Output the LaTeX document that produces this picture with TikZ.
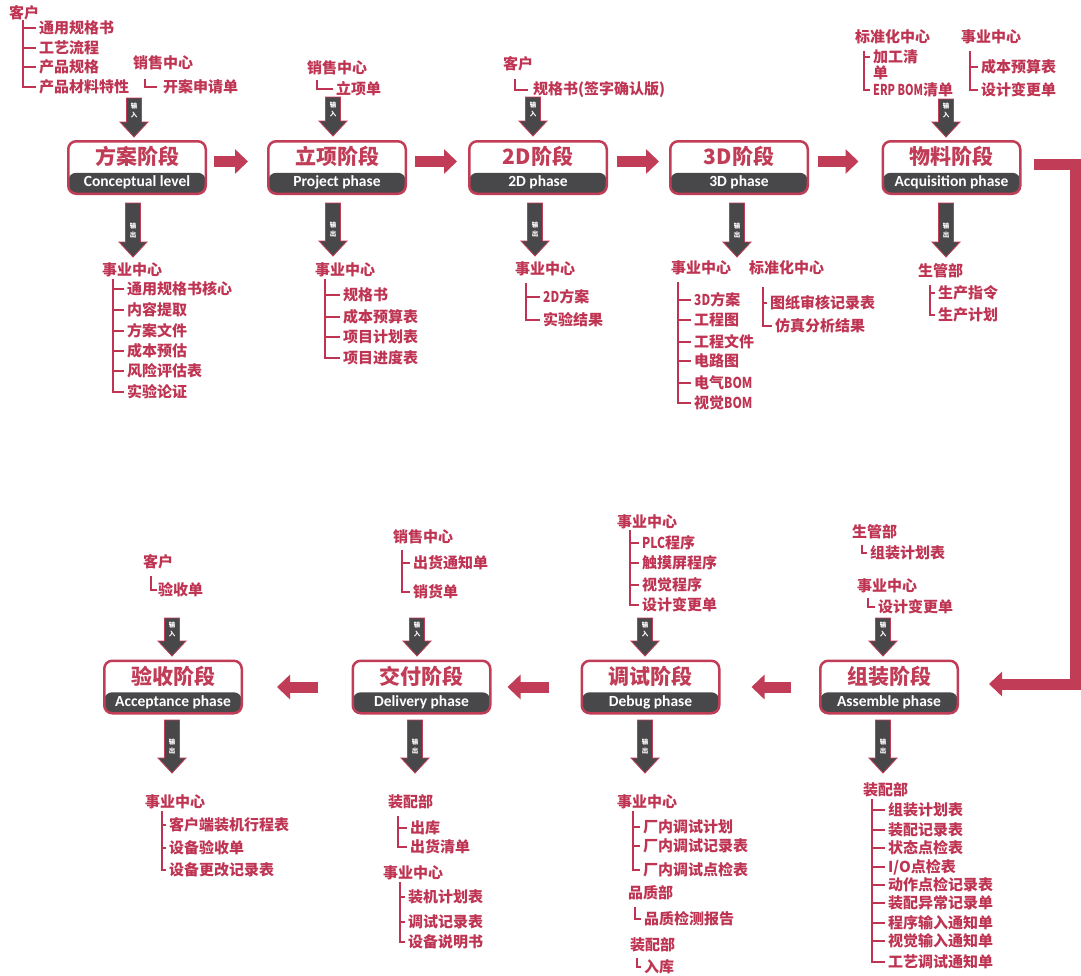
\documentclass[tikz,border=0pt]{standalone}
\usepackage{fontspec}
\newfontfamily\cjk{Noto Sans CJK SC}
\newfontfamily\lat{Carlito}
\usetikzlibrary{arrows.meta}
\definecolor{boxred}{RGB}{193,60,86}
\definecolor{txtred}{RGB}{190,52,82}
\definecolor{dgray}{RGB}{72,72,74}
\newcommand\ioarrow[5]{%
  \path[ioshape] (#1-7.5,#2) -- (#1+7.5,#2) -- (#1+7.5,#3-15) -- (#1+14,#3-15) -- (#1,#3) -- (#1-14,#3-15) -- (#1-7.5,#3-15) -- cycle;
  \node[albl] at (#1,#3-27) {#4\\#5};}
\newcommand\br[2]{\draw[tree] (#1) |- ([xshift=-3pt]#2.west);}
\newcommand\nl[1]{\scalebox{0.8}[1]{#1}}
\begin{document}
\begin{tikzpicture}[x=1pt,y=-1pt,
 itm/.style={font=\cjk\bfseries\fontsize{15}{16}\selectfont, text=txtred, inner sep=0pt, anchor=west},
 tree/.style={draw=txtred, line width=1.5pt},
 stagebox/.style={draw=boxred, line width=2.5pt, rounded corners=8pt, fill=white, minimum width=137.5pt, minimum height=52.5pt, inner sep=0pt,
   path picture={\fill[dgray] ([yshift=21pt]path picture bounding box.south west) rectangle (path picture bounding box.south east);}},
 ttl/.style={font=\cjk\bfseries\fontsize{21}{21}\selectfont, text=boxred, inner sep=0pt},
 sub/.style={font=\lat\bfseries\fontsize{15.5}{15.5}\selectfont, text=white, inner sep=0pt},
 flow/.style={draw=boxred, line width=11pt, line join=miter, -{Triangle[width=24pt,length=13pt]}},
 albl/.style={font=\cjk\bfseries\fontsize{6.5}{9}\selectfont, text=white, align=center, inner sep=0pt},
 ioshape/.style={fill=dgray, draw=boxred, line width=0.8pt, line join=miter},
]
\useasboundingbox[fill=white] (0,0) rectangle (1081,975);

% ---------- stage boxes ----------
\node[stagebox] (s1) at (137,167.5) {};
\node[stagebox] (s2) at (337,167.5) {};
\node[stagebox] (s3) at (538,167.5) {};
\node[stagebox] (s4) at (739,167.5) {};
\node[stagebox] (s5) at (951.5,167.5) {};
\node[stagebox] (b4) at (889,687) {};
\node[stagebox] (b3) at (650.5,687) {};
\node[stagebox] (b2) at (421.5,687) {};
\node[stagebox] (b1) at (173,687) {};

\foreach \n/\t/\s in {s1/方案阶段/Conceptual level, s2/立项阶段/Project phase, s3/2D阶段/2D phase, s4/3D阶段/3D phase, s5/物料阶段/Acquisition phase, b4/组装阶段/Assemble phase, b3/调试阶段/Debug phase, b2/交付阶段/Delivery phase, b1/验收阶段/Acceptance phase}{
  \node[ttl] (\n t) at ([yshift=11pt]\n.center) {\t};
  \node[sub] (\n s) at ([yshift=-15pt]\n.center) {\s};
}

% ---------- flow arrows ----------
\draw[flow] ([xshift=7pt,yshift=6pt]s1.east) -- ([xshift=-19pt,yshift=6pt]s2.west);
\draw[flow] ([xshift=8pt,yshift=6pt]s2.east) -- ([xshift=-11pt,yshift=6pt]s3.west);
\draw[flow] ([xshift=9pt,yshift=6pt]s3.east) -- ([xshift=-10pt,yshift=6pt]s4.west);
\draw[flow] ([xshift=9pt,yshift=6pt]s4.east) -- ([xshift=-23pt,yshift=6pt]s5.west);
\coordinate (rc) at (1075.5,684);
\draw[flow] ([xshift=12pt,yshift=3pt]s5.east) -| (rc) -- ([xshift=30pt,yshift=3pt]b4.east);
\draw[flow] ([xshift=-28pt]b4.west) -- ([xshift=31pt]b3.east);
\draw[flow] ([xshift=-32pt]b3.west) -- ([xshift=16pt]b2.east);
\draw[flow] ([xshift=-34pt]b2.west) -- ([xshift=34pt]b1.east);

% ---------- input / output arrows ----------
\ioarrow{134}{98}{137}{输}{入}
\ioarrow{333}{97}{136}{输}{入}
\ioarrow{533}{97}{136}{输}{入}
\ioarrow{946}{99}{137}{输}{入}
\ioarrow{133}{203}{257}{输}{出}
\ioarrow{333}{203}{256}{输}{出}
\ioarrow{535}{203}{256}{输}{出}
\ioarrow{737}{203}{257}{输}{出}
\ioarrow{946}{203}{257}{输}{出}
\ioarrow{172}{618}{656}{输}{入}
\ioarrow{417}{618}{656}{输}{入}
\ioarrow{645}{618}{656}{输}{入}
\ioarrow{883}{618}{656}{输}{入}
\ioarrow{172}{720}{773}{输}{出}
\ioarrow{415}{720}{773}{输}{出}
\ioarrow{645}{720}{773}{输}{出}
\ioarrow{883}{720}{773}{输}{出}

% ---------- 方案 input ----------
\node[itm] (a1h) at (9,13) {客户};
\coordinate (a1t) at (23,20);
\node[itm] (a1i1) at (39,28) {通用规格书};
\node[itm] (a1i2) at (39,48) {工艺流程};
\node[itm] (a1i3) at (39,67) {产品规格};
\node[itm] (a1i4) at (39,87) {产品材料特性};
\foreach \i in {1,...,4} {\br{a1t}{a1i\i}}
\node[itm] (a2h) at (133,63) {销售中心};
\coordinate (a2t) at (145,79);
\node[itm] (a2i1) at (163,87) {开案申请单};
\draw[tree] (a2t) |- ([xshift=-6pt]a2i1.west);

% ---------- 方案 output ----------
\node[itm] (a3h) at (102,270) {事业中心};
\coordinate (a3t) at (113,279);
\node[itm] (a3i1) at (127,289) {通用规格书核心};
\node[itm] (a3i2) at (127,310) {内容提取};
\node[itm] (a3i3) at (127,331) {方案文件};
\node[itm] (a3i4) at (127,351) {成本预估};
\node[itm] (a3i5) at (127,371) {风险评估表};
\node[itm] (a3i6) at (127,392) {实验论证};
\foreach \i in {1,...,6} {\br{a3t}{a3i\i}}

% ---------- 立项 ----------
\node[itm] (c1h) at (307,68) {销售中心};
\coordinate (c1t) at (317,80);
\node[itm] (c1i1) at (336,89) {立项单};
\br{c1t}{c1i1}
\node[itm] (c2h) at (315,270) {事业中心};
\coordinate (c2t) at (325,279);
\node[itm] (c2i1) at (343,295) {规格书};
\node[itm] (c2i2) at (343,317) {成本预算表};
\node[itm] (c2i3) at (343,337) {项目计划表};
\node[itm] (c2i4) at (343,358) {项目进度表};
\foreach \i in {1,...,4} {\br{c2t}{c2i\i}}

% ---------- 2D ----------
\node[itm] (d1h) at (503,64) {客户};
\coordinate (d1t) at (515,79);
\node[itm] (d1i1) at (533,90) {规格书(签字确认版)};
\draw[tree] (d1t) |- ([xshift=-5pt]d1i1.west);
\node[itm] (d2h) at (515,269) {事业中心};
\coordinate (d2t) at (526,283);
\node[itm] (d2i1) at (543,297) {\nl{2D}方案};
\node[itm] (d2i2) at (543,320) {实验结果};
\foreach \i in {1,2} {\br{d2t}{d2i\i}}

% ---------- 3D ----------
\node[itm] (e1h) at (671,268) {事业中心};
\coordinate (e1t) at (678,282);
\node[itm] (e1i1) at (694,300) {\nl{3D}方案};
\node[itm] (e1i2) at (694,320) {工程图};
\node[itm] (e1i3) at (694,342) {工程文件};
\node[itm] (e1i4) at (694,361) {电路图};
\node[itm] (e1i5) at (694,383) {电气\nl{BOM}};
\node[itm] (e1i6) at (694,403) {视觉\nl{BOM}};
\foreach \i in {1,...,6} {\br{e1t}{e1i\i}}
\node[itm] (e2h) at (749,268) {标准化中心};
\coordinate (e2t) at (763,287);
\node[itm] (e2i1) at (770,303) {图纸审核记录表};
\node[itm] (e2i2) at (775,326) {仿真分析结果};
\foreach \i in {1,2} {\br{e2t}{e2i\i}}

% ---------- 物料 ----------
\node[itm] (f1h) at (855,37) {标准化中心};
\coordinate (f1t) at (864,51);
\node[itm, align=left, anchor=north west] (f1i1) at (873,49) {加工清\\单};
\draw[tree] (f1t) |- ([xshift=-3pt,yshift=-8pt]f1i1.north west);
\node[itm] (f1i2) at (873,90) {\scalebox{0.72}[1]{ERP BOM}清单};
\br{f1t}{f1i2}
\node[itm] (f2h) at (961,37) {事业中心};
\coordinate (f2t) at (970,51);
\node[itm] (f2i1) at (981,67) {成本预算表};
\node[itm] (f2i2) at (981,90) {设计变更单};
\foreach \i in {1,2} {\br{f2t}{f2i\i}}
\node[itm] (f3h) at (918,271) {生管部};
\coordinate (f3t) at (930,285);
\node[itm] (f3i1) at (938,293) {生产指令};
\node[itm] (f3i2) at (938,315) {生产计划};
\foreach \i in {1,2} {\br{f3t}{f3i\i}}

% ---------- 组装 ----------
\node[itm] (g1h) at (852,532) {生管部};
\coordinate (g1t) at (862,545);
\node[itm] (g1i1) at (870,553) {组装计划表};
\br{g1t}{g1i1}
\node[itm] (g2h) at (857,586) {事业中心};
\coordinate (g2t) at (868,598);
\node[itm] (g2i1) at (878,607) {设计变更单};
\br{g2t}{g2i1}
\node[itm] (g3h) at (863,790) {装配部};
\coordinate (g3t) at (872,799);
\node[itm] (g3i1) at (888,810) {组装计划表};
\node[itm] (g3i2) at (888,830) {装配记录表};
\node[itm] (g3i3) at (888,848) {状态点检表};
\node[itm] (g3i4) at (888,867) {I/O点检表};
\node[itm] (g3i5) at (888,885) {动作点检记录表};
\node[itm] (g3i6) at (888,903) {装配异常记录单};
\node[itm] (g3i7) at (888,923) {程序输入通知单};
\node[itm] (g3i8) at (888,941) {视觉输入通知单};
\node[itm] (g3i9) at (888,962) {工艺调试通知单};
\foreach \i in {1,...,9} {\br{g3t}{g3i\i}}

% ---------- 调试 ----------
\node[itm] (h1h) at (617,522) {事业中心};
\coordinate (h1t) at (630,530);
\node[itm] (h1i1) at (642,543) {\nl{PLC}程序};
\node[itm] (h1i2) at (642,563) {触摸屏程序};
\node[itm] (h1i3) at (642,585) {视觉程序};
\node[itm] (h1i4) at (642,605) {设计变更单};
\foreach \i in {1,...,4} {\br{h1t}{h1i\i}}
\node[itm] (h2h) at (617,802) {事业中心};
\coordinate (h2t) at (633,811);
\node[itm] (h2i1) at (643,827) {厂内调试计划};
\node[itm] (h2i2) at (643,846) {厂内调试记录表};
\node[itm] (h2i3) at (643,870) {厂内调试点检表};
\foreach \i in {1,...,3} {\br{h2t}{h2i\i}}
\node[itm] (h3h) at (628,893) {品质部};
\coordinate (h3t) at (635,907);
\node[itm] (h3i1) at (644,919) {品质检测报告};
\br{h3t}{h3i1}
\node[itm] (h4h) at (630,945) {装配部};
\coordinate (h4t) at (637,958);
\node[itm] (h4i1) at (644,967) {入库};
\br{h4t}{h4i1}

% ---------- 交付 ----------
\node[itm] (k1h) at (393,537) {销售中心};
\coordinate (k1t) at (402,550);
\node[itm] (k1i1) at (413,563) {出货通知单};
\node[itm] (k1i2) at (413,592) {销货单};
\foreach \i in {1,2} {\br{k1t}{k1i\i}}
\node[itm] (k2h) at (388,802) {装配部};
\coordinate (k2t) at (398,816);
\node[itm] (k2i1) at (410,828) {出库};
\node[itm] (k2i2) at (410,847) {出货清单};
\foreach \i in {1,2} {\br{k2t}{k2i\i}}
\node[itm] (k3h) at (383,873) {事业中心};
\coordinate (k3t) at (400,882);
\node[itm] (k3i1) at (408,897) {装机计划表};
\node[itm] (k3i2) at (408,922) {调试记录表};
\node[itm] (k3i3) at (408,942) {设备说明书};
\foreach \i in {1,...,3} {\br{k3t}{k3i\i}}

% ---------- 验收 ----------
\node[itm] (m1h) at (143,562) {客户};
\coordinate (m1t) at (151,576);
\node[itm] (m1i1) at (158,590) {验收单};
\draw[tree] (m1t) |- ([xshift=-1pt]m1i1.west);
\node[itm] (m2h) at (145,802) {事业中心};
\coordinate (m2t) at (162,811);
\node[itm] (m2i1) at (169,825) {客户端装机行程表};
\node[itm] (m2i2) at (169,848) {设备验收单};
\node[itm] (m2i3) at (169,870) {设备更改记录表};
\foreach \i in {1,...,3} {\br{m2t}{m2i\i}}
\end{tikzpicture}
\end{document}
